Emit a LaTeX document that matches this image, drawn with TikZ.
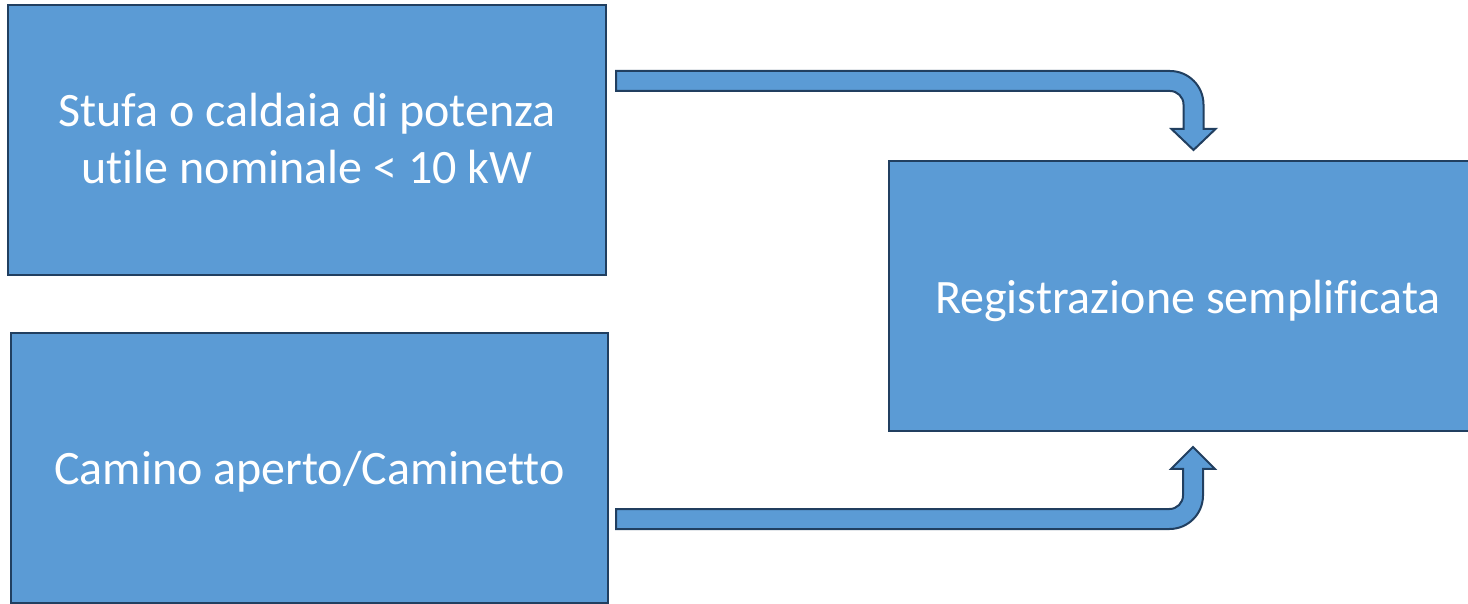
\documentclass[tikz,border=0pt]{standalone}
\usepackage{fontspec}
\setmainfont{Carlito}[Ligatures=NoCommon]
\definecolor{boxfill}{HTML}{5B9BD5}
\definecolor{boxline}{HTML}{213F60}
\newcommand{\dropby}[2]{\raisebox{-#1}[\height][\depth]{#2}}
\begin{document}
\begin{tikzpicture}[x=1pt,y=1pt,
  blockbox/.style={draw=boxline, fill=boxfill, line width=2.5pt, inner sep=0pt,
    minimum width=598pt, minimum height=270pt, text=white, align=center,
    font=\fontsize{48}{57}\selectfont},
  blockarrow/.style={draw=boxline, fill=boxfill, line width=2pt, line join=miter}]
\useasboundingbox (0,0) rectangle (1468,603);
\node[blockbox] (b1) at (307,463) {\dropby{4pt}{\begin{tabular}{@{}c@{}}Stufa o caldaia di potenza\\utile nominale < 10 kW\end{tabular}}};
\node[blockbox, minimum width=597pt] (b2) at (309.5,135) {\dropby{4pt}{Camino aperto/Caminetto}};
\node[blockbox] (b3) at (1188,307) {\dropby{5pt}{Registrazione semplificata}};
% arrow 1 (top)
\draw[blockarrow] (616,532) -- (1170,532) arc[start angle=90,end angle=0,radius=33.5]
  -- (1203.5,474) -- (1215.5,474) -- (1193.5,453) -- (1171.5,474) -- (1183.5,474)
  -- (1183.5,498.5) arc[start angle=0,end angle=90,radius=13.5] -- (616,512) -- cycle;
% arrow 2 (bottom)
\draw[blockarrow] (616,74) -- (1169.5,74) arc[start angle=-90,end angle=0,radius=33.5]
  -- (1203,134) -- (1215,134) -- (1193,156) -- (1171,134) -- (1183,134)
  -- (1183,107.5) arc[start angle=0,end angle=-90,radius=13.5] -- (616,94) -- cycle;
\end{tikzpicture}
\end{document}
